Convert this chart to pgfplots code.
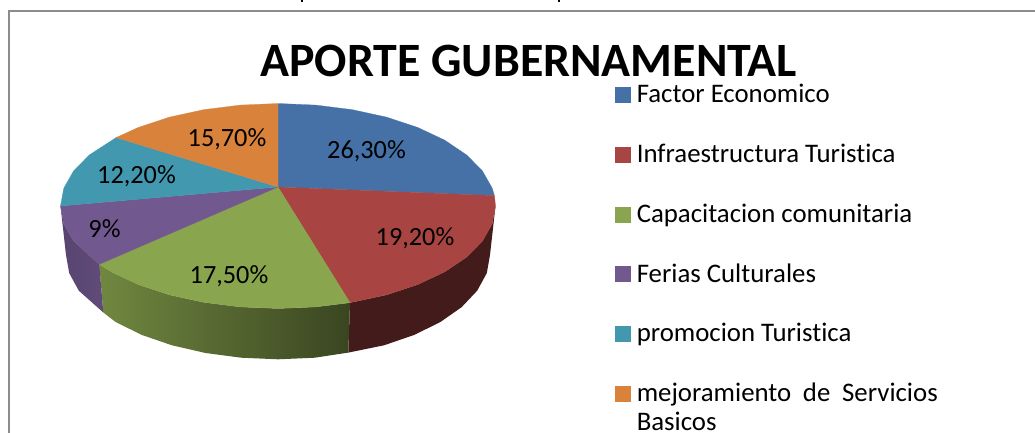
\documentclass[border=0pt]{standalone}
\usepackage{pgfplots}
\pgfplotsset{compat=1.18}
\usepackage{fontspec}
\setmainfont[Ligatures={NoCommon}]{Carlito}
\definecolor{cblue}{HTML}{4571A7}
\definecolor{cred}{HTML}{A84442}
\definecolor{cgreen}{HTML}{89A54E}
\definecolor{cpurple}{HTML}{71588F}
\definecolor{cteal}{HTML}{4198AF}
\definecolor{corange}{HTML}{D8823C}
\begin{document}
\begin{tikzpicture}
\path[use as bounding box] (0,0) rectangle (776.25pt,324pt);
\begin{axis}[
  scale only axis, width=776.25pt, height=324pt,
  xmin=0, xmax=1035, ymin=0, ymax=432, y dir=reverse,
  hide axis, clip=true,
  legend style={draw=none, fill=none, at={(axis cs:614.5,84)}, anchor=north west,
    row sep=26.85pt, inner sep=0pt, outer sep=0pt,
    font=\fontsize{20.1}{23}\selectfont,
    nodes={inner sep=0pt, text height=14pt, text depth=4pt, anchor=base west}},
  legend cell align=left,
  legend image code/.code={\fill[#1] (0pt,0.4pt) rectangle (11.25pt,11.65pt);\path (16.5pt,0pt);},
]
% frame
\addplot[forget plot, color=black!45, line width=1.5pt] coordinates {(8.5,440) (8.5,11) (1045,11)};
% cut-off remains of the text above the chart
\addplot[forget plot, black, line width=1.5pt] coordinates {(302,0) (302,2)};
\addplot[forget plot, black, line width=1.5pt] coordinates {(559,0) (559,2)};
% side walls
\addplot[forget plot, draw=none, fill=cred!40!black] coordinates {
 (495.5,206) (492.2,223.8) (482.4,241.1) (466.4,257.3) (444.6,271.9) (417.8,284.5) (386.8,294.8) (350,302.7)
 (348.3,352.6) (384,345.3) (414.3,334.9) (440.4,322) (461.6,307.2) (477.2,290.7) (486.8,273.1) (490,255) (495.5,206)};
\addplot[forget plot, draw=none, left color=cgreen!82!black, right color=cgreen!42!black] coordinates {
 (350,302.7) (315.8,306.9) (278,308.5) (240.2,306.9) (203.6,302.3) (169.2,294.8) (138.2,284.5) (111.4,271.9) (99.3,264.3)
 (103.3,312.5) (115.6,322) (141.7,334.9) (172,345.3) (205.5,353) (241.2,357.7) (278,359.3) (314.8,357.7) (348.3,352.6) (350,302.7)};
\addplot[forget plot, draw=none, left color=cpurple!78!black, right color=cpurple!85!black] coordinates {
 (99.3,264.3) (73.6,241.1) (63.8,223.8) (60.5,206) (66,255) (69.2,273.1) (78.8,290.7) (103.3,312.5) (99.3,264.3)};
% top faces
\addplot[fill=cblue, draw=cblue, line width=.2pt] coordinates {
 (278,187) (278,103.5) (315.8,105.1) (352.4,109.7) (386.8,117.2) (417.8,127.5) (444.6,140.1) (466.4,154.8) (482.4,170.9) (492.2,188.2) (494.4,195.6) (278,187)};
\addlegendentry{Factor Economico}
\addplot[fill=cred, draw=cred, line width=.2pt] coordinates {
 (278,187) (494.4,195.6) (495.5,206) (492.2,223.8) (482.4,241.1) (466.4,257.3) (444.6,271.9) (417.8,284.5) (386.8,294.8) (350,302.7) (278,187)};
\addlegendentry{Infraestructura Turistica}
\addplot[fill=cgreen, draw=cgreen, line width=.2pt] coordinates {
 (278,187) (350,302.7) (315.8,306.9) (278,308.5) (240.2,306.9) (203.6,302.3) (169.2,294.8) (138.2,284.5) (111.4,271.9) (99.3,264.3) (278,187)};
\addlegendentry{Capacitacion comunitaria}
\addplot[fill=cpurple, draw=cpurple, line width=.2pt] coordinates {
 (278,187) (99.3,264.3) (73.6,241.1) (63.8,223.8) (60.5,206) (278,187)};
\addlegendentry{Ferias Culturales}
\addplot[fill=cteal, draw=cteal, line width=.2pt] coordinates {
 (278,187) (60.5,206) (63.8,188.2) (73.6,170.9) (89.6,154.8) (116.1,137.6) (278,187)};
\addlegendentry{promocion Turistica}
\addplot[fill=corange, draw=corange, line width=.2pt] coordinates {
 (278,187) (116.1,137.6) (138.2,127.5) (169.2,117.2) (203.6,109.7) (240.2,105.1) (278,103.5) (278,187)};
\addlegendentry{\parbox[t]{225.75pt}{\hbox to 225.75pt{mejoramiento\hfill de\hfill Servicios}\par\nointerlineskip\vskip 4pt\hbox{Basicos}}}
% labels
\begin{scope}[every node/.style={font=\fontsize{19.7}{23}\selectfont, inner sep=0pt, text=black}]
\node at (axis cs:366.5,151) {26,30\%};
\node at (axis cs:415,238) {19,20\%};
\node at (axis cs:229,276) {17,50\%};
\node at (axis cs:104.5,229) {9\%};
\node at (axis cs:136.5,176.5) {12,20\%};
\node at (axis cs:227,139) {15,70\%};
\node[font=\fontsize{35.9}{40}\bfseries\selectfont] at (axis cs:528.5,61) {APORTE GUBERNAMENTAL};
\end{scope}
\end{axis}
\end{tikzpicture}
\end{document}
